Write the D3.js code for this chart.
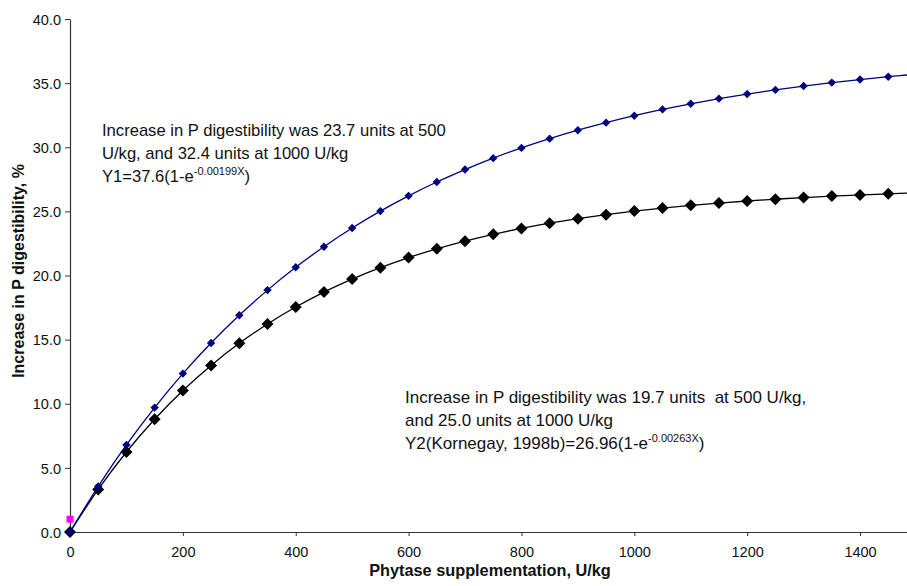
<!DOCTYPE html>
<html>
<head>
<meta charset="utf-8">
<script src="https://cdn.jsdelivr.net/npm/d3@7"></script>
<style>
  html, body { margin: 0; padding: 0; background: #fff; }
  svg { display: block; }
  text { font-family: "Liberation Sans", Arial, sans-serif; white-space: pre; }
</style>
</head>
<body>
<svg id="chart" width="907" height="586"></svg>
<script>
// Phytase dose (U/kg)
const doses = [0, 50, 100, 150, 200, 250, 300, 350, 400, 450, 500, 550, 600, 650, 700,
  750, 800, 850, 900, 950, 1000, 1050, 1100, 1150, 1200, 1250, 1300, 1350, 1400, 1450, 1500];

// Y1: increase in P digestibility, units
const y1Values = [0, 3.56, 6.79, 9.70, 12.35, 14.74, 16.90, 18.86, 20.64, 22.24, 23.70,
  25.02, 26.21, 27.29, 28.26, 29.15, 29.95, 30.67, 31.33, 31.92, 32.46, 32.95, 33.39,
  33.79, 34.15, 34.47, 34.77, 35.04, 35.28, 35.50, 35.70];

// Y2 (Kornegay, 1998b): increase in P digestibility, units
const y2Values = [0, 3.32, 6.24, 8.79, 11.03, 12.99, 14.71, 16.22, 17.54, 18.71, 19.72,
  20.61, 21.40, 22.08, 22.68, 23.21, 23.67, 24.08, 24.43, 24.74, 25.02, 25.26, 25.47,
  25.65, 25.81, 25.95, 26.08, 26.19, 26.28, 26.37, 26.44];

// Single observation at zero dose
const refPoint = { x: 0, y: 1.0 };

const xTicks = [0, 200, 400, 600, 800, 1000, 1200, 1400];
const yTicks = [0, 5, 10, 15, 20, 25, 30, 35, 40];

const svg = d3.select("#chart");
const plotLeft = 70, plotTop = 19, plotBottom = 532;

const x = d3.scaleLinear().domain([0, 1500]).range([plotLeft, plotLeft + 1500 * 0.5643]);
const y = d3.scaleLinear().domain([0, 40]).range([plotBottom, plotTop]);

svg.append("defs").append("clipPath").attr("id", "plotclip")
  .append("rect").attr("x", 0).attr("y", 0).attr("width", 907).attr("height", 586);

// Axes
const axisColor = "#333";
const xAxis = svg.append("g").attr("transform", `translate(0,${plotBottom})`)
  .call(d3.axisBottom(x).tickValues(xTicks).tickFormat(d3.format("d")).tickSize(4).tickSizeOuter(0));
const yAxis = svg.append("g").attr("transform", `translate(${plotLeft},0)`)
  .call(d3.axisLeft(y).tickValues(yTicks).tickFormat(d3.format(".1f")).tickSize(5).tickSizeOuter(0));

[xAxis, yAxis].forEach(g => {
  g.select(".domain").attr("stroke", axisColor).attr("stroke-width", 1.2);
  g.selectAll(".tick line").attr("stroke", axisColor);
  g.selectAll(".tick text").attr("fill", "#111").style("font-size", "14.5px")
    .style("font-family", "'Liberation Sans', Arial, sans-serif");
});
xAxis.selectAll(".tick text").attr("dy", null).attr("y", 25);
yAxis.selectAll(".tick text").attr("x", -9).attr("dy", "0.36em");

// Axis titles
svg.append("text")
  .attr("x", 490).attr("y", 576).attr("text-anchor", "middle")
  .style("font-size", "16.3px").style("font-weight", "bold").attr("fill", "#111")
  .text("Phytase supplementation, U/kg");
svg.append("text")
  .attr("transform", "translate(23.5,271) rotate(-90)").attr("text-anchor", "middle")
  .style("font-size", "16px").style("font-weight", "bold").attr("fill", "#111")
  .text("Increase in P digestibility, %");

const plot = svg.append("g").attr("clip-path", "url(#plotclip)");

const line = d3.line().x(d => x(d[0])).y(d => y(d[1])).curve(d3.curveCatmullRom);

const series = [
  { values: y2Values, color: "#000000", size: 6 },
  { values: y1Values, color: "#000080", size: 4.2 }
];

series.forEach(s => {
  const pts = doses.map((d, i) => [d, s.values[i]]);
  plot.append("path").datum(pts)
    .attr("d", line).attr("fill", "none")
    .attr("stroke", s.color).attr("stroke-width", 1.3);
  plot.selectAll(null).data(pts).enter().append("path")
    .attr("d", `M0,${-s.size}L${s.size},0L0,${s.size}L${-s.size},0Z`)
    .attr("transform", d => `translate(${x(d[0])},${y(d[1])})`)
    .attr("fill", s.color);
});

// Zero-dose observation
plot.append("rect")
  .attr("x", x(refPoint.x) - 3.5).attr("y", y(refPoint.y) - 3.5)
  .attr("width", 7).attr("height", 7).attr("fill", "#ff00ff");

// Annotations
function annotate(x0, y0, size, lines) {
  lines.forEach((ln, i) => {
    const t = svg.append("text").attr("x", x0).attr("y", y0 + i * 23.2)
      .attr("xml:space", "preserve")
      .style("font-size", size + "px").attr("fill", "#111");
    ln.forEach(part => {
      const sp = t.append("tspan").text(part.t);
      if (part.sup) sp.attr("dy", "-7").style("font-size", "11px");
      if (part.down) sp.attr("dy", "7");
    });
  });
}

annotate(102, 136, 16.6, [
  [{ t: "Increase in P digestibility was 23.7 units at 500" }],
  [{ t: "U/kg, and 32.4 units at 1000 U/kg" }],
  [{ t: "Y1=37.6(1-e" }, { t: "-0.00199X", sup: true }, { t: ")", down: true }]
]);

annotate(405, 403, 17, [
  [{ t: "Increase in P digestibility was 19.7 units  at 500 U/kg," }],
  [{ t: "and 25.0 units at 1000 U/kg" }],
  [{ t: "Y2(Kornegay, 1998b)=26.96(1-e" }, { t: "-0.00263X", sup: true }, { t: ")", down: true }]
]);
</script>
</body>
</html>
